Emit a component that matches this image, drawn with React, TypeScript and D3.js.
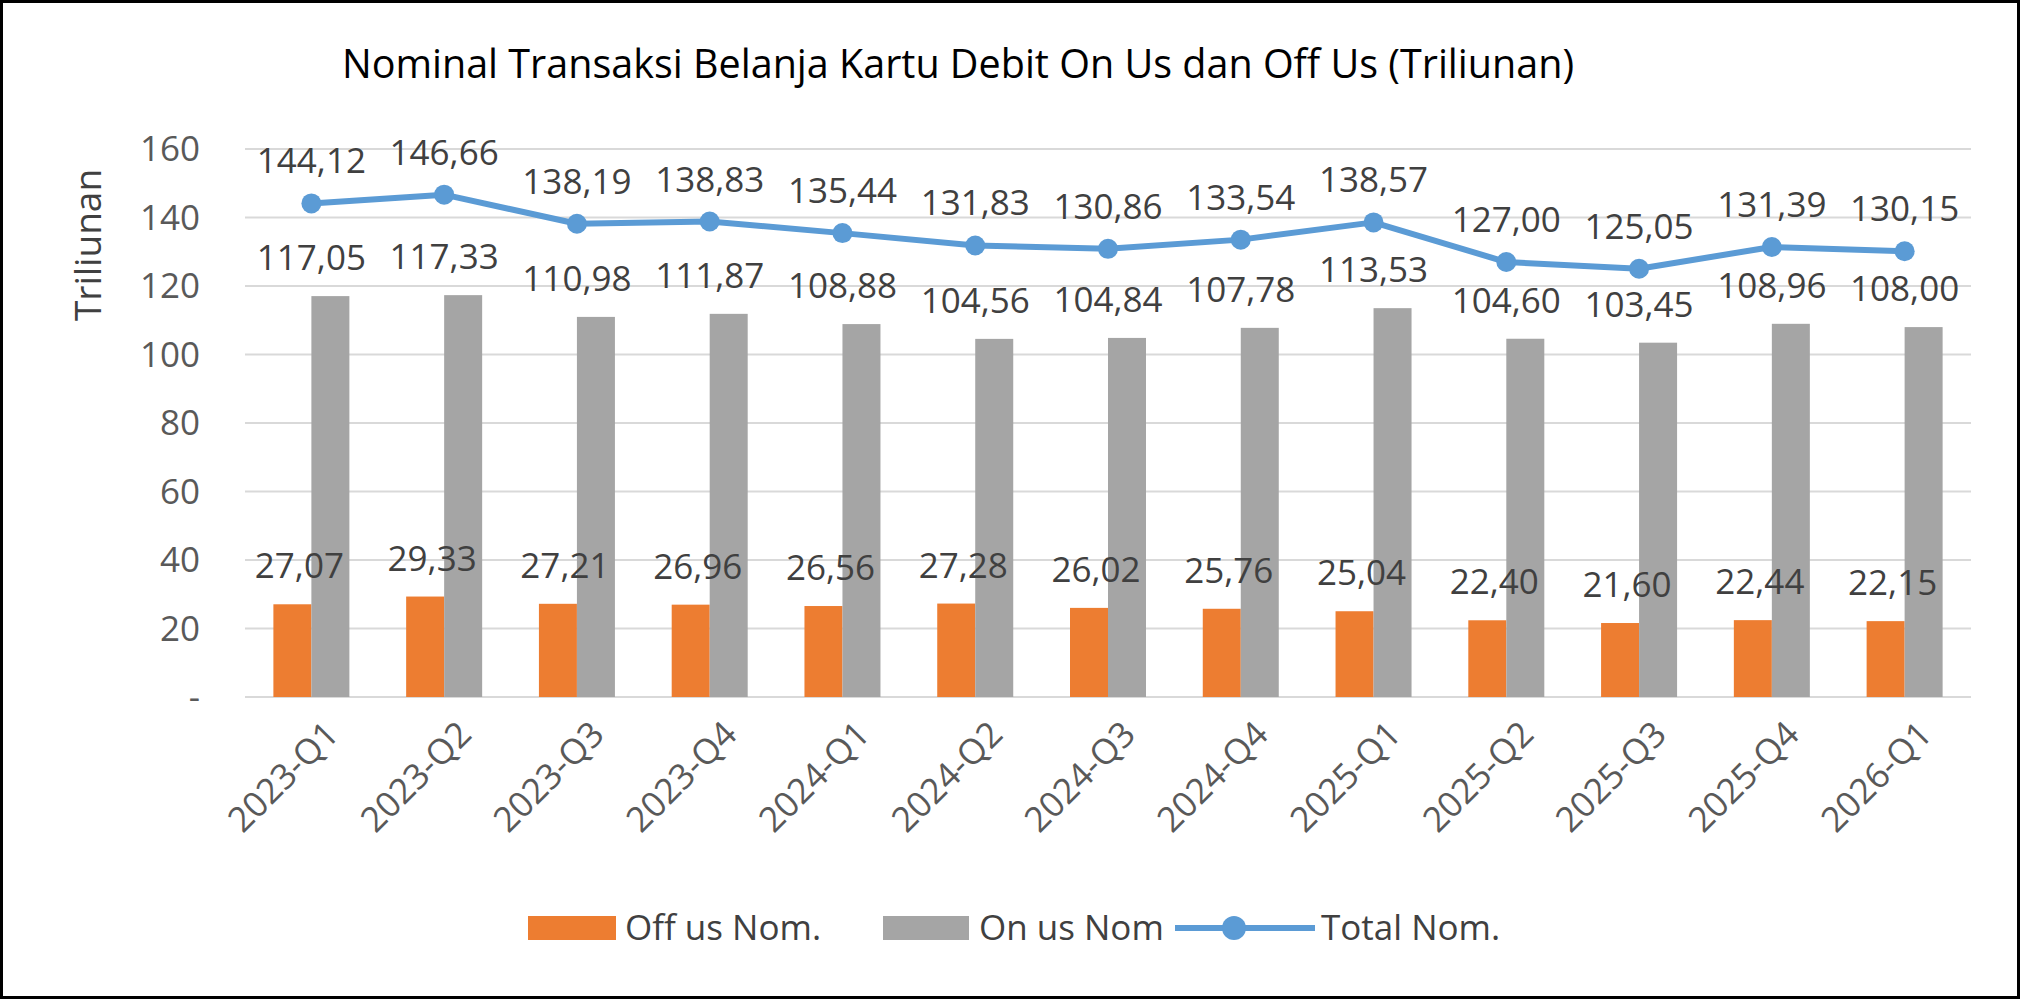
import React, { useEffect, useRef } from 'react';
import * as d3 from 'd3';

const categories = ['2023-Q1','2023-Q2','2023-Q3','2023-Q4','2024-Q1','2024-Q2','2024-Q3','2024-Q4','2025-Q1','2025-Q2','2025-Q3','2025-Q4','2026-Q1'];
const offUs = [27.07,29.33,27.21,26.96,26.56,27.28,26.02,25.76,25.04,22.40,21.60,22.44,22.15];
const onUs = [117.05,117.33,110.98,111.87,108.88,104.56,104.84,107.78,113.53,104.60,103.45,108.96,108.00];
const total = [144.12,146.66,138.19,138.83,135.44,131.83,130.86,133.54,138.57,127.00,125.05,131.39,130.15];
const yTicks = [0,20,40,60,80,100,120,140,160];

const W = 2020, H = 999;
const fmt = (v: number) => v.toFixed(2).replace('.', ',');
const FONT = '"Open Sans", "Noto Sans", sans-serif';
const FS = 35;

const App: React.FC = () => {
  const ref = useRef<SVGSVGElement>(null);
  useEffect(() => {
    document.body.style.margin = '0';
    const svg = d3.select(ref.current!);
    svg.selectAll('*').remove();
    svg.append('rect').attr('x', 1.5).attr('y', 1.5).attr('width', W - 3).attr('height', H - 3)
      .attr('fill', '#fff').attr('stroke', '#000').attr('stroke-width', 3);

    const left = 245, right = 1971, top = 149, bottom = 697;
    const x = d3.scaleBand().domain(categories).range([left, right]);
    const y = d3.scaleLinear().domain([0, 160]).range([bottom, top]);
    const bw = 38;

    svg.append('text').attr('x', 958).attr('y', 78).attr('text-anchor', 'middle')
      .attr('font-size', 39.5).attr('font-family', FONT).attr('fill', '#000')
      .text('Nominal Transaksi Belanja Kartu Debit On Us dan Off Us (Triliunan)');

    svg.append('text').attr('transform', `translate(101,245) rotate(-90)`).attr('text-anchor', 'middle')
      .attr('font-size', 37).attr('font-family', FONT).attr('fill', '#404040').text('Triliunan');

    const g = svg.append('g');
    yTicks.forEach(t => {
      g.append('line').attr('x1', left).attr('x2', right).attr('y1', y(t)).attr('y2', y(t))
        .attr('stroke', '#d9d9d9').attr('stroke-width', 2);
      g.append('text').attr('x', 200).attr('y', y(t) + 12).attr('text-anchor', 'end')
        .attr('font-size', FS).attr('font-family', FONT).attr('fill', '#595959')
        .text(t === 0 ? '-' : String(t));
    });

    const cx = (c: string) => (x(c) || 0) + x.bandwidth() / 2;

    categories.forEach((c, i) => {
      g.append('rect').attr('x', cx(c) - bw).attr('y', y(offUs[i])).attr('width', bw)
        .attr('height', bottom - y(offUs[i])).attr('fill', '#ED7D31');
      g.append('rect').attr('x', cx(c)).attr('y', y(onUs[i])).attr('width', bw)
        .attr('height', bottom - y(onUs[i])).attr('fill', '#A5A5A5');
      g.append('text').attr('x', cx(c) - 12).attr('y', y(offUs[i]) - 26).attr('text-anchor', 'middle')
        .attr('font-size', FS).attr('font-family', FONT).attr('fill', '#404040').text(fmt(offUs[i]));
      g.append('text').attr('x', cx(c)).attr('y', y(onUs[i]) - 26).attr('text-anchor', 'middle')
        .attr('font-size', FS).attr('font-family', FONT).attr('fill', '#404040').text(fmt(onUs[i]));
      g.append('text').attr('transform', `translate(${cx(c) + 12},${bottom + 22}) rotate(-45)`)
        .attr('text-anchor', 'end').attr('dy', '0.7em')
        .attr('font-size', FS).attr('font-family', FONT).attr('fill', '#595959').text(c);
    });

    const line = d3.line<number>().x((_, i) => cx(categories[i])).y(d => y(d));
    g.append('path').datum(total).attr('d', line).attr('fill', 'none')
      .attr('stroke', '#5B9BD5').attr('stroke-width', 6).attr('stroke-linejoin', 'round');
    total.forEach((v, i) => {
      g.append('circle').attr('cx', cx(categories[i])).attr('cy', y(v)).attr('r', 10).attr('fill', '#5B9BD5');
      g.append('text').attr('x', cx(categories[i])).attr('y', y(v) - 30).attr('text-anchor', 'middle')
        .attr('font-size', FS).attr('font-family', FONT).attr('fill', '#404040').text(fmt(v));
    });

    const ly = 928;
    const lg = svg.append('g').attr('font-family', FONT).attr('font-size', FS).attr('fill', '#404040');
    lg.append('rect').attr('x', 528).attr('y', ly - 12).attr('width', 88).attr('height', 24).attr('fill', '#ED7D31');
    lg.append('text').attr('x', 625).attr('y', ly + 12).text('Off us Nom.');
    lg.append('rect').attr('x', 883).attr('y', ly - 12).attr('width', 86).attr('height', 24).attr('fill', '#A5A5A5');
    lg.append('text').attr('x', 979).attr('y', ly + 12).text('On us Nom');
    lg.append('line').attr('x1', 1175).attr('x2', 1315).attr('y1', ly).attr('y2', ly)
      .attr('stroke', '#5B9BD5').attr('stroke-width', 6);
    lg.append('circle').attr('cx', 1234).attr('cy', ly).attr('r', 12).attr('fill', '#5B9BD5');
    lg.append('text').attr('x', 1321).attr('y', ly + 12).text('Total Nom.');
  }, []);
  return <svg ref={ref} width={W} height={H} style={{ display: 'block' }} />;
};

export default App;
